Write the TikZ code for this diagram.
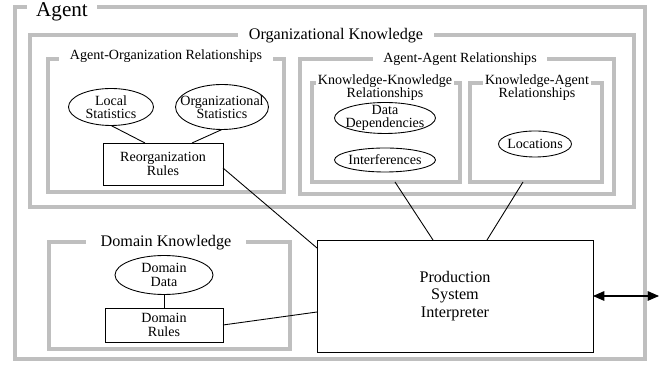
\documentclass[tikz,border=0pt]{standalone}
\usepackage{fontspec}
\setmainfont{Liberation Serif}
\usetikzlibrary{shapes.geometric, arrows.meta}

\tikzset{
	,font = \fontsize{8}{7.6}\selectfont
	,frame/.style    = {rectangle, draw=black!25, line width=2.6pt, inner sep=0pt, outer sep=0pt}
	,framelab/.style = {fill=white, inner xsep=6pt, inner ysep=0.5pt, align=center}
	,myell/.style    = {ellipse, draw=black, line width=0.5pt, inner sep=0pt, outer sep=0pt}
	,mybox/.style    = {rectangle, draw=black, line width=0.5pt, align=center, inner sep=0pt, outer sep=0pt}
	,link/.style     = {-, line width=0.5pt}
	,io/.style       = {{Triangle[length=6.5pt,width=5.5pt]}-{Triangle[length=6.5pt,width=5.5pt]}, line width=0.6pt}
	,bigtext/.style  = {font=\fontsize{12}{14}\selectfont}
	,midtext/.style  = {font=\fontsize{9.2}{9.8}\selectfont}
}

\begin{document}
\begin{tikzpicture}[x=0.02cm, y=-0.02cm]
				\useasboundingbox (0,0) rectangle (669,367);
				% frames
				\node[frame, minimum width=12.6cm,  minimum height=7.04cm] (agent) at (330,183) {};
				\node[frame, minimum width=12.08cm, minimum height=3.44cm] (ok) at (332,121) {};
				\node[frame, minimum width=4.72cm,  minimum height=2.66cm] (ao) at (166,125.5) {};
				\node[frame, minimum width=6.28cm,  minimum height=2.7cm]  (aa) at (457,126.5) {};
				\node[frame, minimum width=2.96cm,  minimum height=1.98cm] (kk) at (386,132.5) {};
				\node[frame, minimum width=2.64cm,  minimum height=1.98cm] (ka) at (536,132.5) {};
				\node[frame, minimum width=4.82cm,  minimum height=2.14cm] (dk) at (169.5,295.5) {};
				% frame titles
				\node[framelab, bigtext, anchor=base, inner xsep=5pt] (agentlab) at (62,17) {Agent};
				\node[framelab, midtext, anchor=base] (oklab) at (336,39.5) {Organizational Knowledge};
				\node[framelab, anchor=base] (aolab) at (166,60) {Agent-Organization Relationships};
				\node[framelab, anchor=base] (aalab) at (460,63) {Agent-Agent Relationships};
				\node[framelab, inner xsep=1pt] (kklab) at (385,87.5) {Knowledge-Knowledge\\Relationships};
				\node[framelab, inner xsep=1pt] (kalab) at (537,87.5) {Knowledge-Agent\\Relationships};
				\node[framelab, midtext, anchor=base, inner xsep=8.5pt] (dklab) at (166,246.5) {Domain Knowledge};
				% contents
				\node[myell, minimum width=1.7cm,  minimum height=0.74cm, label={[align=center]center:Local\\Statistics}] (locstat) at (111,107) {};
				\node[myell, minimum width=1.86cm, minimum height=0.9cm,  label={[align=center]center:Organizational\\Statistics}] (orgstat) at (222,107) {};
				\node[mybox, minimum width=2.4cm,  minimum height=0.84cm] (reorg) at (163,164) {Reorganization\\Rules};
				\node[myell, minimum width=2.02cm, minimum height=0.62cm, label={[align=center]center:Data\\Dependencies}] (datadep) at (385,118) {};
				\node[myell, minimum width=2.02cm, minimum height=0.48cm, label={center:Interferences}] (interf) at (385,160) {};
				\node[myell, minimum width=1.46cm, minimum height=0.52cm, label={center:Locations}] (locs) at (535,144) {};
				\node[myell, minimum width=1.96cm, minimum height=0.78cm, label={[align=center]center:Domain\\Data}] (ddata) at (164,275) {};
				\node[mybox, minimum width=2.36cm, minimum height=0.68cm] (drules) at (164,325) {Domain\\Rules};
				\node[mybox, midtext, minimum width=5.52cm, minimum height=2.24cm] (psi) at (455,296) {Production\\System\\Interpreter};
				\coordinate (outside) at (659,296);
				% connectors
				\draw[link] (locstat.south) -- ([xshift=-0.36cm]reorg.north);
				\draw[link] (orgstat.south) -- ([xshift=0.58cm]reorg.north);
				\draw[link] ([yshift=-0.08cm]reorg.east) -- ([yshift=-0.16cm]psi.north west);
				\draw[link] ([xshift=0.18cm]kk.south) -- ([xshift=-0.44cm]psi.north);
				\draw[link] ([xshift=-0.26cm]ka.south) -- ([xshift=0.64cm]psi.north);
				\draw[link] (ddata) -- (drules);
				\draw[link] (drules.east) -- ([yshift=-0.32cm]psi.west);
				\draw[io] (psi.east) -- (outside);
			\end{tikzpicture}
\end{document}
